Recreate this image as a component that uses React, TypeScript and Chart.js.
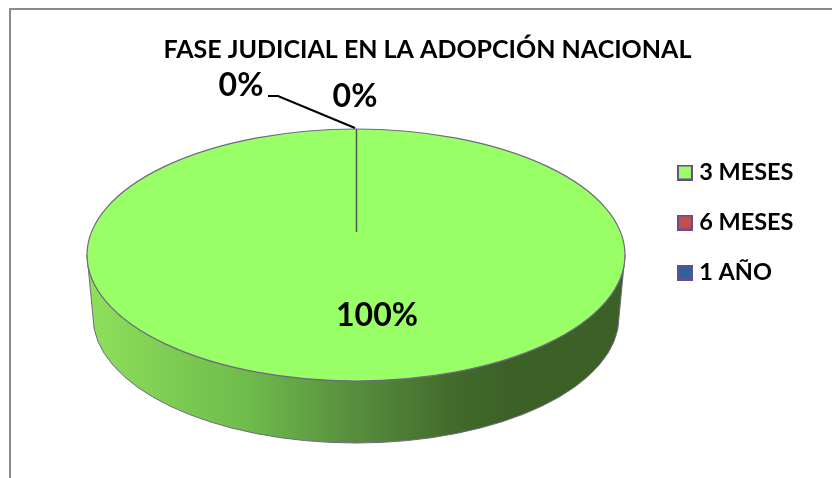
import React, { useEffect, useRef } from "react";
import { Chart, registerables } from "chart.js";

Chart.register(...registerables);

const titleText = "FASE JUDICIAL EN LA ADOPCIÓN NACIONAL";
const categories = ["3 MESES", "6 MESES", "1 AÑO"];
const values = [100, 0, 0];
const sliceColors = ["#99FF66", "#C0504D", "#2F6299"];
const legendBorder = "#6B4C8C";
const FONT = "Lato, 'Noto Sans', sans-serif";

// target ellipse of the pie's top face, and the wall depth
const CX = 356, CY = 255, RX = 269, RY = 126, DEPTH = 62, RX_BOTTOM = 263;

const percent = (v: number) => {
  const total = values.reduce((a, b) => a + b, 0);
  return `${Math.round((v / total) * 100)}%`;
};

const makeSwatch = (color: string) => {
  const c = document.createElement("canvas");
  c.width = 16;
  c.height = 16;
  const g = c.getContext("2d") as CanvasRenderingContext2D;
  g.fillStyle = color;
  g.fillRect(0, 0, 16, 16);
  g.strokeStyle = legendBorder;
  g.lineWidth = 2;
  g.strokeRect(1, 1, 14, 14);
  return c;
};

const framePlugin = {
  id: "frame",
  beforeDraw(chart: any) {
    const ctx = chart.ctx;
    ctx.save();
    ctx.fillStyle = "#ffffff";
    ctx.fillRect(0, 0, chart.width, chart.height);
    ctx.strokeStyle = "#8C8C8C";
    ctx.lineWidth = 2;
    ctx.beginPath();
    ctx.moveTo(10, chart.height);
    ctx.lineTo(10, 9);
    ctx.lineTo(chart.width, 9);
    ctx.stroke();
    ctx.restore();
  },
};

const pie3dPlugin = {
  id: "pie3d",
  beforeDatasetsDraw(chart: any) {
    const ctx = chart.ctx;
    const arc = chart.getDatasetMeta(0).data[0];
    // side wall
    ctx.save();
    const g = ctx.createLinearGradient(CX - RX, 0, CX + RX, 0);
    g.addColorStop(0, "#8EE05B");
    g.addColorStop(0.3, "#6EBB4C");
    g.addColorStop(0.49, "#588F3E");
    g.addColorStop(0.68, "#436B2B");
    g.addColorStop(0.78, "#3C6127");
    g.addColorStop(1, "#3C6127");
    ctx.fillStyle = g;
    ctx.beginPath();
    ctx.ellipse(CX, CY, RX, RY, 0, Math.PI, 0, true);
    ctx.lineTo(CX + RX_BOTTOM, CY + DEPTH);
    ctx.ellipse(CX, CY + DEPTH, RX_BOTTOM, RY, 0, 0, Math.PI, false);
    ctx.closePath();
    ctx.fill();
    ctx.strokeStyle = "#6F6A80";
    ctx.lineWidth = 1;
    ctx.stroke();
    ctx.restore();
    // squeeze the library's round pie into the ellipse
    const r = arc.outerRadius;
    ctx.save();
    ctx.translate(CX, CY);
    ctx.scale(RX / r, RY / r);
    ctx.translate(-arc.x, -arc.y);
  },
  afterDatasetsDraw(chart: any) {
    const ctx = chart.ctx;
    ctx.restore();
    ctx.save();
    ctx.strokeStyle = "#6F6A80";
    ctx.lineWidth = 1.2;
    ctx.beginPath();
    ctx.ellipse(CX, CY, RX, RY, 0, 0, Math.PI * 2);
    ctx.stroke();
    // boundary of the empty slices
    ctx.strokeStyle = "#4A5A45";
    ctx.lineWidth = 1.5;
    ctx.beginPath();
    ctx.moveTo(CX + 0.5, CY - RY);
    ctx.lineTo(CX + 0.5, 232);
    ctx.stroke();
    // leader line
    ctx.strokeStyle = "#000000";
    ctx.lineWidth = 2;
    ctx.beginPath();
    ctx.moveTo(268, 96);
    ctx.lineTo(278, 96);
    ctx.lineTo(355, 128);
    ctx.stroke();
    // data labels
    ctx.fillStyle = "#000000";
    ctx.font = `bold 32px ${FONT}`;
    ctx.textAlign = "center";
    ctx.textBaseline = "middle";
    ctx.fillText(percent(values[0]), 377, 316);
    ctx.fillText(percent(values[1]), 241, 86);
    ctx.fillText(percent(values[2]), 355, 97);
    ctx.restore();
  },
};

export default function App() {
  const ref = useRef<HTMLCanvasElement | null>(null);
  useEffect(() => {
    document.body.style.margin = "0";
    const swatches = sliceColors.map(makeSwatch);
    const chart = new Chart(ref.current as HTMLCanvasElement, {
      type: "pie",
      data: {
        labels: categories,
        datasets: [{ data: values, backgroundColor: sliceColors, borderWidth: 0 }],
      },
      options: {
        responsive: false,
        animation: false,
        layout: { padding: { left: 51.5, right: 28.5, top: 0, bottom: 33 } },
        plugins: {
          tooltip: { enabled: false },
          title: {
            display: true,
            text: titleText,
            color: "#000000",
            font: { family: FONT, size: 25, weight: "bold" },
            padding: { top: 35, bottom: 20 },
          },
          legend: {
            position: "right",
            labels: {
              color: "#000000",
              font: { family: FONT, size: 23.5, weight: "bold" },
              usePointStyle: true,
              boxWidth: 5,
              boxHeight: 14,
              padding: 26.5,
              generateLabels(c: any) {
                const base = (Chart as any).overrides.doughnut.plugins.legend.labels.generateLabels(c);
                return base.map((it: any, i: number) => ({ ...it, pointStyle: swatches[i] }));
              },
            },
          },
        },
      } as any,
      plugins: [framePlugin, pie3dPlugin],
    });
    return () => chart.destroy();
  }, []);
  return <canvas ref={ref} width={832} height={478} style={{ display: "block" }} />;
}
